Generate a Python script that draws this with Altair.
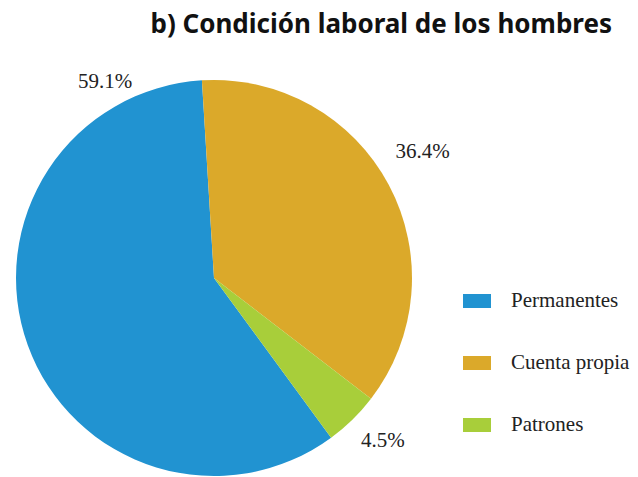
import math
import altair as alt
import pandas as pd

categories = ["Permanentes", "Cuenta propia", "Patrones"]
values = [59.1, 36.4, 4.5]
labels = ["59.1%", "36.4%", "4.5%"]
colors = ["#2193d1", "#dba92a", "#a8ce3a"]
pie_order = [3, 1, 2]
title_text = ["b) Condición laboral de los hombres"]

# label placement: position along the pie (value units) and distance from centre
label_at = [92.9, 17.3, 38.2]
label_r = [224, 244, 235]

df = pd.DataFrame(dict(cat=categories, value=values, label=labels,
                       order=pie_order, label_at=label_at, label_r=label_r))
tdf = pd.DataFrame(dict(t=title_text))

start = math.radians(-3.5)
cx, cy, R = 206, 270, 198
theta_scale = alt.Scale(domain=[0, 100], range=[start, start + 2 * math.pi])

arcs = alt.Chart(df).mark_arc(outerRadius=R).encode(
    theta=alt.Theta("value:Q", stack=True, scale=theta_scale),
    color=alt.Color(
        "cat:N",
        scale=alt.Scale(domain=categories, range=colors),
        sort=categories,
        title=None,
        legend=alt.Legend(
            orient="none", legendX=455, legendY=279,
            symbolType="M-1,-0.5H1V0.5H-1Z", symbolSize=784,
            symbolStrokeWidth=0, symbolOpacity=1,
            labelFont="Liberation Serif", labelFontSize=21, labelColor="#222222",
            labelOffset=20, rowPadding=38, padding=0,
        ),
    ),
    order=alt.Order("order:Q"),
    x=alt.value(cx),
    y=alt.value(cy),
)

pct = alt.Chart(df).mark_text(font="Liberation Serif", fontSize=21, color="#222222").encode(
    theta=alt.Theta("label_at:Q", stack=None, scale=theta_scale),
    radius=alt.Radius("label_r:Q", scale=None),
    text="label:N",
    x=alt.value(cx),
    y=alt.value(cy),
)

title = alt.Chart(tdf).mark_text(
    font="Noto Sans", fontWeight="bold", fontSize=26, color="#111111",
    align="right", baseline="alphabetic",
).encode(text="t:N", x=alt.value(604), y=alt.value(25))

chart = alt.layer(arcs, pct, title).properties(
    width=622, height=469, autosize="none", padding=0
).configure_view(stroke=None)

chart.save("out.html", embed_options={"renderer": "svg", "actions": False})
